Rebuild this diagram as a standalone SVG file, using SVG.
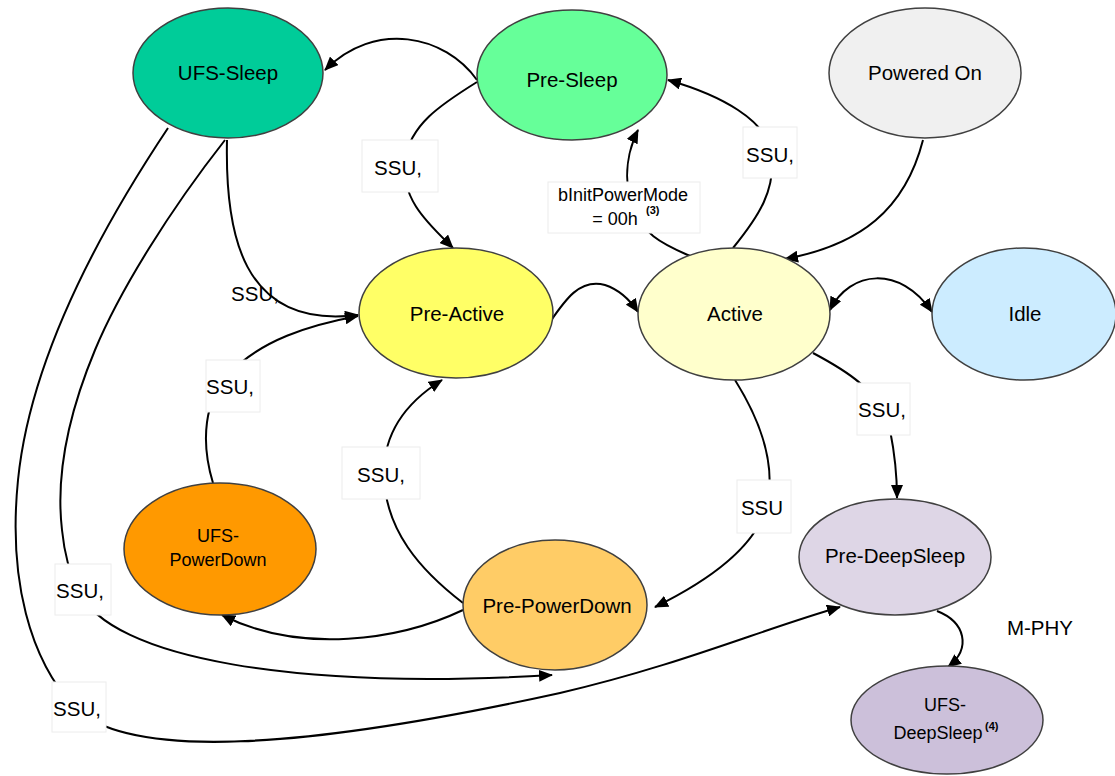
<svg xmlns="http://www.w3.org/2000/svg" width="1115" height="776" viewBox="0 0 1115 776">
<style>
.n{stroke:#404040;stroke-width:1.5}
.t{font-family:"Liberation Sans",Arial,sans-serif;font-size:20.5px;fill:#000;text-anchor:middle;dominant-baseline:central}
.s{font-family:"Liberation Sans",Arial,sans-serif;font-size:18px;fill:#000;text-anchor:middle;dominant-baseline:central}
.sup{font-family:"Liberation Sans",Arial,sans-serif;font-size:11px;font-weight:bold;fill:#000;text-anchor:start;dominant-baseline:central}
.e{fill:none;stroke:#000;stroke-width:2}
.lb{fill:#fff;stroke:#ececec;stroke-width:1}
</style>
<defs>
<marker id="ah" viewBox="0 0 14 12" refX="13" refY="6" markerWidth="14" markerHeight="12" markerUnits="userSpaceOnUse" orient="auto-start-reverse">
<path d="M0,0 L14,6 L0,12 Z" fill="#000"/>
</marker>
</defs>
<rect width="1115" height="776" fill="#fff"/>
<g id="connectors">
<path class="e" d="M477,80 C445,35 375,20 325,70" marker-end="url(#ah)"/>
<path class="e" d="M477,82 C440,105 410,125 405,160 C400,200 430,225 453,248" marker-end="url(#ah)"/>
<path class="e" d="M227,140 C225,230 240,330 358,315" marker-end="url(#ah)"/>
<path class="e" d="M213,483 C200,440 205,400 228,375 C260,340 310,325 358,316" marker-end="url(#ah)"/>
<path class="e" d="M463,603 C420,570 385,530 384,475 C383,430 410,400 442,380" marker-end="url(#ah)"/>
<path class="e" d="M463,610 C400,640 300,655 222,615" marker-end="url(#ah)"/>
<path class="e" d="M225,140 C170,210 120,290 95,350 C70,410 55,470 62,530 C64,550 68,570 78,590 C110,660 300,690 552,675" marker-end="url(#ah)"/>
<path class="e" d="M168,128 C100,230 30,360 18,480 C8,580 30,660 75,708 C130,760 300,750 560,693 C680,665 760,630 840,607" marker-end="url(#ah)"/>
<path class="e" d="M550,322 C565,300 580,278 605,285 C620,290 630,300 638,312" marker-end="url(#ah)"/>
<path class="e" d="M733,248 C760,215 775,190 772,155 C768,120 720,95 668,80" marker-end="url(#ah)"/>
<path class="e" d="M690,256 C665,245 640,235 630,200 C624,175 628,150 638,130" marker-end="url(#ah)"/>
<path class="e" d="M923,140 C905,210 860,245 785,259" marker-end="url(#ah)"/>
<path class="e" d="M830,310 C850,270 900,265 932,312" marker-start="url(#ah)" marker-end="url(#ah)"/>
<path class="e" d="M813,353 C845,370 880,390 890,430 C895,455 897,475 897,498" marker-end="url(#ah)"/>
<path class="e" d="M735,380 C760,420 775,460 768,500 C760,545 710,580 655,607" marker-end="url(#ah)"/>
<path class="e" d="M937,611 C965,622 972,648 948,667" marker-end="url(#ah)"/>
</g>
<g id="labels">
<rect class="lb" x="362" y="140" width="76" height="52"/>
<text class="t" x="398" y="167">SSU,</text>
<text class="t" x="255" y="293">SSU,</text>
<rect class="lb" x="206" y="360" width="54" height="52"/>
<text class="t" x="230" y="386">SSU,</text>
<rect class="lb" x="342" y="447" width="78" height="52"/>
<text class="t" x="381" y="474">SSU,</text>
<rect class="lb" x="55" y="564" width="56" height="51"/>
<text class="t" x="80" y="590">SSU,</text>
<rect class="lb" x="52" y="682" width="54" height="50"/>
<text class="t" x="77" y="708">SSU,</text>
<rect class="lb" x="743" y="127" width="54" height="51"/>
<text class="t" x="770" y="154">SSU,</text>
<rect class="lb" x="548" y="182" width="152" height="51"/>
<text class="s" x="623" y="195">bInitPowerMode</text>
<text class="s" x="615" y="219">= 00h</text>
<text class="sup" x="646" y="210">(3)</text>
<rect class="lb" x="857" y="383" width="53" height="52"/>
<text class="t" x="882" y="409">SSU,</text>
<rect class="lb" x="737" y="480" width="54" height="53"/>
<text class="t" x="762" y="507">SSU</text>
<text class="t" x="1040" y="627">M-PHY</text>
</g>
<g id="node-ufs-sleep"><ellipse class="n" cx="228" cy="73" rx="95" ry="65" fill="#00CC99"/><text class="t" x="228" y="72">UFS-Sleep</text></g>
<g id="node-pre-sleep"><ellipse class="n" cx="572" cy="75" rx="95" ry="65" fill="#66FF99"/><text class="t" x="572" y="79">Pre-Sleep</text></g>
<g id="node-powered-on"><ellipse class="n" cx="925" cy="73" rx="96" ry="65" fill="#F0F0F0"/><text class="t" x="925" y="72">Powered On</text></g>
<g id="node-pre-active"><ellipse class="n" cx="456" cy="313" rx="97" ry="65" fill="#FFFF66"/><text class="t" x="457" y="313">Pre-Active</text></g>
<g id="node-active"><ellipse class="n" cx="734" cy="314" rx="96" ry="66" fill="#FFFFCC"/><text class="t" x="735" y="313">Active</text></g>
<g id="node-idle"><ellipse class="n" cx="1024" cy="314" rx="92" ry="66" fill="#CCECFF"/><text class="t" x="1025" y="313">Idle</text></g>
<g id="node-ufs-powerdown"><ellipse class="n" cx="220" cy="549" rx="96" ry="66" fill="#FF9900"/><text class="s" x="218" y="536">UFS-</text><text class="s" x="218" y="560">PowerDown</text></g>
<g id="node-pre-powerdown"><ellipse class="n" cx="555" cy="605" rx="92" ry="65" fill="#FFCC66"/><text class="t" x="557" y="605">Pre-PowerDown</text></g>
<g id="node-pre-deepsleep"><ellipse class="n" cx="895" cy="557" rx="96" ry="58" fill="#DED6E6"/><text class="t" x="895" y="555">Pre-DeepSleep</text></g>
<g id="node-ufs-deepsleep"><ellipse class="n" cx="947" cy="720" rx="96" ry="54" fill="#CCC0DA"/><text class="s" x="945" y="705">UFS-</text><text class="s" x="938" y="733">DeepSleep</text><text class="sup" x="985" y="726">(4)</text></g>
</svg>
